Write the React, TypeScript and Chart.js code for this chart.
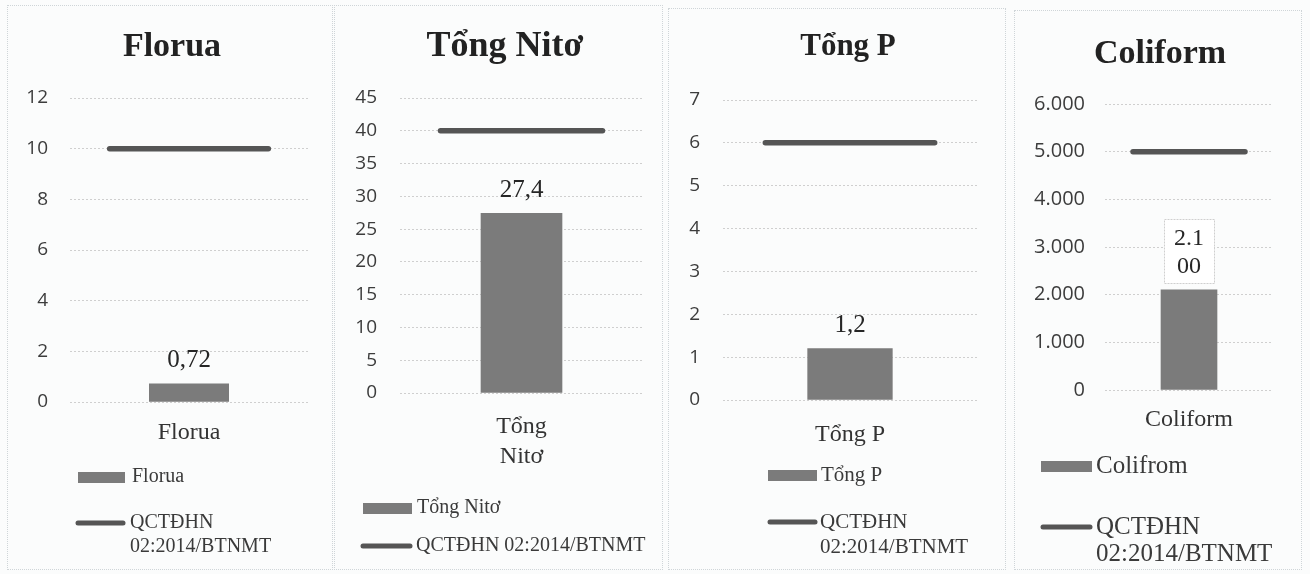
import React, { useEffect, useRef } from 'react';
import { Chart, registerables } from 'chart.js';

Chart.register(...registerables);

// ---- Data -----------------------------------------------------------------
const chartTitles = ['Florua', 'Tổng Nitơ', 'Tổng P', 'Coliform'];
const categoryLabels: string[][] = [['Florua'], ['Tổng', 'Nitơ'], ['Tổng P'], ['Coliform']];
const measuredSeriesNames = ['Florua', 'Tổng Nitơ', 'Tổng P', 'Colifrom'];
const measuredValues = [0.72, 27.4, 1.2, 2100];
const limitSeriesName = 'QCTĐHN 02:2014/BTNMT';
const limitValues = [10, 40, 6, 5000];
const axisMax = [12, 45, 7, 6000];
const axisStep = [2, 5, 1, 1000];

// ---- Styling / layout -----------------------------------------------------
const SERIF = '"Liberation Serif", "Times New Roman", serif';
const SANS = '"Open Sans", "Noto Sans", sans-serif';
const BAR_COLOR = '#7b7b7b';
const LINE_COLOR = '#555555';
const GRID_COLOR = '#cfcfcf';

type LegendSlot = { x: number; w: number; y: number; textX: number };
type PanelLayout = {
  box: [number, number, number, number];
  area: [number, number, number, number];
  titleX: number;
  titleY: number;
  titleSize: number;
  tickSize: number;
  tickPad: number;
  catSize: number;
  catPad: number;
  labelSize: number;
  labelBox: boolean;
  legendSize: number;
  legendLineH: number;
  legend: [LegendSlot, LegendSlot];
};

const panelLayouts: PanelLayout[] = [
  {
    box: [7, 5, 333, 570], area: [70, 98, 308, 402],
    titleX: 172, titleY: 47, titleSize: 34,
    tickSize: 19, tickPad: 22, catSize: 24, catPad: 16,
    labelSize: 25, labelBox: false, legendSize: 20, legendLineH: 24,
    legend: [
      { x: 78, w: 47, y: 477, textX: 132 },
      { x: 76, w: 49, y: 523, textX: 130 },
    ],
  },
  {
    box: [334, 5, 663, 570], area: [400, 98, 643, 393],
    titleX: 505, titleY: 47, titleSize: 36,
    tickSize: 19, tickPad: 23, catSize: 24, catPad: 19,
    labelSize: 25, labelBox: false, legendSize: 20, legendLineH: 24,
    legend: [
      { x: 363, w: 49, y: 508, textX: 417 },
      { x: 361, w: 51, y: 546, textX: 416 },
    ],
  },
  {
    box: [668, 8, 1006, 570], area: [723, 100, 977, 400],
    titleX: 848, titleY: 47, titleSize: 31,
    tickSize: 19, tickPad: 23, catSize: 24, catPad: 20,
    labelSize: 25, labelBox: false, legendSize: 21, legendLineH: 25,
    legend: [
      { x: 768, w: 49, y: 475, textX: 821 },
      { x: 768, w: 49, y: 522, textX: 820 },
    ],
  },
  {
    box: [1014, 10, 1302, 570], area: [1105, 104, 1273, 390],
    titleX: 1160, titleY: 54, titleSize: 34,
    tickSize: 20, tickPad: 20, catSize: 24, catPad: 15,
    labelSize: 24, labelBox: true, legendSize: 25, legendLineH: 27,
    legend: [
      { x: 1041, w: 51, y: 466, textX: 1096 },
      { x: 1041, w: 51, y: 527, textX: 1096 },
    ],
  },
];

// Vietnamese number format: "." groups thousands, "," marks decimals.
function formatVi(v: number): string {
  const [intPart, fracPart] = String(v).split('.');
  const grouped = intPart.replace(/\B(?=(\d{3})+(?!\d))/g, '.');
  return fracPart ? `${grouped},${fracPart}` : grouped;
}

function wrapWords(ctx: CanvasRenderingContext2D, text: string, maxWidth: number): string[] {
  const words = text.split(' ');
  const lines: string[] = [];
  let cur = '';
  for (const w of words) {
    const next = cur ? `${cur} ${w}` : w;
    if (cur && ctx.measureText(next).width > maxWidth) {
      lines.push(cur);
      cur = w;
    } else {
      cur = next;
    }
  }
  if (cur) lines.push(cur);
  return lines;
}

function wrapChars(ctx: CanvasRenderingContext2D, text: string, maxWidth: number): string[] {
  const lines: string[] = [];
  let cur = '';
  for (const ch of text) {
    if (cur && ctx.measureText(cur + ch).width > maxWidth) {
      lines.push(cur);
      cur = ch;
    } else {
      cur += ch;
    }
  }
  if (cur) lines.push(cur);
  return lines;
}

function Panel({ index }: { index: number }) {
  const ref = useRef<HTMLCanvasElement>(null);
  const L = panelLayouts[index];
  const [bl, bt, br, bb] = L.box;
  const W = br - bl;
  const H = bb - bt;

  useEffect(() => {
    const canvas = ref.current;
    if (!canvas) return;
    const areaL = L.area[0] - bl;
    const areaT = L.area[1] - bt;
    const areaR = L.area[2] - bl;
    const areaB = L.area[3] - bt;
    const xAxisH = 90;

    // The measured bar sits in the middle slot; the limit line runs across
    // the centres of the three slots, so it spans the middle two thirds.
    const labels: (string | string[])[] = ['', categoryLabels[index], ''];
    const barData = [null, measuredValues[index], null];
    const limitData = labels.map(() => limitValues[index]);

    const decor = {
      id: 'panelDecor',
      afterDatasetsDraw(c: Chart) {
        const ctx = c.ctx;
        ctx.save();

        // Title
        ctx.fillStyle = '#222222';
        ctx.font = `bold ${L.titleSize}px ${SERIF}`;
        ctx.textAlign = 'center';
        ctx.textBaseline = 'middle';
        ctx.fillText(chartTitles[index], L.titleX - bl, L.titleY - bt);

        // Value label above the bar
        const bar: any = c.getDatasetMeta(0).data[1];
        if (bar) {
          ctx.font = `${L.labelSize}px ${SERIF}`;
          const text = formatVi(measuredValues[index]);
          const lines = wrapChars(ctx, text, bar.width - 16);
          const lh = 28;
          const lastY = bar.y - 23;
          const firstY = lastY - (lines.length - 1) * lh;
          if (L.labelBox) {
            const bw = bar.width - 6;
            const top = firstY - lh / 2 - 6;
            const bottom = bar.y - 7;
            ctx.fillStyle = '#ffffff';
            ctx.fillRect(bar.x - bw / 2, top, bw, bottom - top);
            ctx.strokeStyle = '#cfcfcf';
            ctx.lineWidth = 1;
            ctx.setLineDash([2, 1]);
            ctx.strokeRect(Math.round(bar.x - bw / 2) + 0.5, Math.round(top) + 0.5, Math.round(bw), Math.round(bottom - top));
            ctx.setLineDash([]);
          }
          ctx.fillStyle = '#262626';
          ctx.textAlign = 'center';
          ctx.textBaseline = 'middle';
          lines.forEach((ln, k) => ctx.fillText(ln, bar.x, firstY + k * lh));
        }

        // Legend
        ctx.textAlign = 'left';
        ctx.textBaseline = 'middle';
        ctx.font = `${L.legendSize}px ${SERIF}`;
        c.data.datasets.forEach((ds: any, k: number) => {
          const slot = L.legend[k];
          const sx = slot.x - bl;
          const sy = slot.y - bt;
          if (k === 0) {
            ctx.fillStyle = BAR_COLOR;
            ctx.fillRect(sx, sy - 5, slot.w, 11);
          } else {
            ctx.strokeStyle = LINE_COLOR;
            ctx.lineWidth = 5;
            ctx.lineCap = 'round';
            ctx.beginPath();
            ctx.moveTo(sx + 2, sy);
            ctx.lineTo(sx + slot.w - 2, sy);
            ctx.stroke();
          }
          ctx.fillStyle = '#3a3a3a';
          const tx = slot.textX - bl;
          const lines = wrapWords(ctx, ds.label, W - tx - 8);
          lines.forEach((ln, j) => ctx.fillText(ln, tx, sy + j * L.legendLineH));
        });

        ctx.restore();
      },
    };

    const chart = new Chart(canvas, {
      type: 'bar',
      data: {
        labels,
        datasets: [
          {
            type: 'bar',
            label: measuredSeriesNames[index],
            data: barData,
            backgroundColor: BAR_COLOR,
            categoryPercentage: 1,
            barPercentage: 1,
            order: 2,
          },
          {
            type: 'line',
            label: limitSeriesName,
            data: limitData,
            borderColor: LINE_COLOR,
            borderWidth: 5.5,
            borderCapStyle: 'round',
            pointRadius: 0,
            fill: false,
            order: 1,
          },
        ] as any,
      },
      options: {
        animation: false,
        responsive: false,
        maintainAspectRatio: false,
        events: [],
        layout: {
          padding: { top: areaT, left: 0, right: W - areaR, bottom: H - areaB - xAxisH },
        },
        plugins: {
          legend: { display: false },
          title: { display: false },
          tooltip: { enabled: false },
        },
        scales: {
          x: {
            type: 'category',
            offset: true,
            grid: { display: false, drawTicks: false },
            border: { display: false },
            ticks: {
              font: { family: SERIF, size: L.catSize, lineHeight: 1.25 },
              color: '#333333',
              padding: L.catPad,
              maxRotation: 0,
              autoSkip: false,
            },
            afterFit: (s: any) => { s.height = xAxisH; },
          },
          y: {
            type: 'linear',
            min: 0,
            max: axisMax[index],
            ticks: {
              stepSize: axisStep[index],
              font: { family: SANS, size: L.tickSize },
              color: '#3c3c3c',
              padding: L.tickPad,
              callback: (v: any) => formatVi(Number(v)),
            },
            grid: { color: GRID_COLOR, drawTicks: false, lineWidth: 1 },
            border: { display: false, dash: [2, 2] },
            afterFit: (s: any) => { s.width = areaL; },
          },
        } as any,
      },
      plugins: [decor],
    });

    return () => chart.destroy();
  }, [index]);

  return (
    <div style={{ position: 'absolute', left: bl, top: bt, width: W, height: H }}>
      <canvas ref={ref} width={W} height={H} style={{ position: 'absolute', left: 0, top: 0, width: W, height: H }} />
      <div
        style={{
          position: 'absolute', left: 0, top: 0, width: W, height: H,
          boxSizing: 'border-box', border: '1px dotted #cfd5d8', pointerEvents: 'none',
        }}
      />
    </div>
  );
}

export default function App() {
  return (
    <div
      style={{
        position: 'fixed', left: 0, top: 0, width: 1310, height: 574,
        background: '#fbfcfc', overflow: 'hidden',
      }}
    >
      {panelLayouts.map((_, i) => (
        <Panel key={i} index={i} />
      ))}
    </div>
  );
}
